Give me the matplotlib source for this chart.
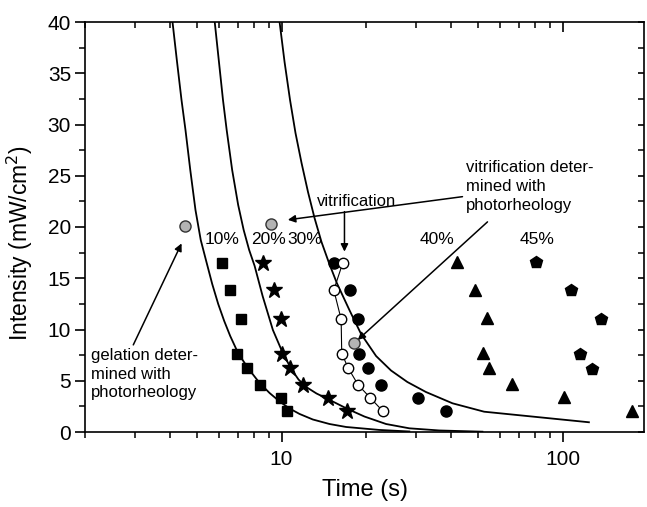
import matplotlib
matplotlib.use("Agg")
import matplotlib.pyplot as plt
from matplotlib.ticker import FixedLocator, NullFormatter, MultipleLocator, FixedFormatter

plt.rcParams['font.family'] = ['Liberation Sans', 'DejaVu Sans']

# ---------------- data ----------------
intensity = [16.5, 13.85, 11.0, 7.65, 6.2, 4.6, 3.35, 2.05]

t_10 = [6.16, 6.58, 7.15, 6.96, 7.56, 8.36, 9.98, 10.48]
t_20 = [8.59, 9.39, 9.98, 10.04, 10.72, 11.93, 14.6, 17.12]
t_30 = [15.34, 17.53, 18.66, 18.92, 20.25, 22.59, 30.63, 38.5]
t_vit = [16.51, 15.34, 16.29, 16.37, 17.29, 18.72, 20.65, 22.89]
t_40 = [41.9, 48.8, 54.0, 52.1, 54.7, 65.9, 101.0, 176.5]
I_40 = [16.6, 13.9, 11.1, 7.7, 6.2, 4.65, 3.45, 2.08]
t_45 = [80.6, 107.2, 136.7, 115.1, 126.7]
I_45 = [16.55, 13.85, 11.0, 7.6, 6.15]

# photorheology points (gray)
t_rheo = [4.55, 9.19, 18.05]
I_rheo = [20.1, 20.3, 8.65]

# model curves
curve1_t = [4.095, 4.242, 4.408, 4.554, 4.736, 4.942, 5.160, 5.406, 5.668, 5.953,
            6.253, 6.567, 6.925, 7.273, 7.638, 8.356, 9.07, 9.84, 10.68, 11.59,
            12.92, 14.81, 16.97, 22.28, 28.47]
curve1_I = [40.0, 36.29, 32.39, 29.46, 25.56, 21.66, 18.73, 16.59, 14.44, 12.49,
            10.83, 9.37, 8.0, 7.02, 6.15, 4.78, 3.80, 2.98, 2.29, 1.76,
            1.22, 0.78, 0.49, 0.2, 0.05]
curve2_t = [5.786, 6.191, 6.381, 6.674, 7.010, 7.333, 7.670, 8.022, 8.563, 9.316,
            10.11, 10.83, 11.49, 12.24, 13.31, 14.6, 17.2, 19.71, 23.53, 28.47,
            36.37, 51.8]
curve2_I = [40.0, 32.39, 29.46, 25.56, 22.15, 19.71, 17.76, 16.20, 13.27, 9.95,
            7.68, 6.15, 5.12, 4.39, 3.76, 3.22, 2.24, 1.51, 0.78, 0.36,
            0.15, 0.03]
curve3_t = [9.84, 10.25, 10.72, 11.21, 11.78, 12.42, 13.10, 13.87, 14.75, 15.72,
            17.43, 19.18, 21.69, 24.51, 28.01, 32.63, 40.55, 52.54, 123.9]
curve3_I = [40.0, 36.1, 32.39, 29.17, 26.24, 23.41, 20.88, 18.54, 16.49, 14.54,
            11.90, 9.56, 7.41, 6.0, 4.88, 3.90, 2.80, 1.98, 0.95]

x_major = [10, 100]
x_major_labels = ["10", "100"]
x_minor = [2, 3, 4, 5, 6, 7, 8, 9, 20, 30, 40, 50, 60, 70, 80, 90]

pct_labels = ["10%", "20%", "30%", "40%", "45%"]
pct_pos_t = [5.33, 7.81, 10.53, 31.07, 70.3]

# ---------------- figure ----------------
W, H = 647, 507
fig = plt.figure(figsize=(W / 100, H / 100), dpi=100)
rect = [85 / W, 1 - 432 / H, (644.3 - 85) / W, (432 - 22) / H]
ax = fig.add_axes(rect)
ax.set_xscale('log')
ax.set_xlim(2, 195)
ax.set_ylim(0, 40)

lc = 'black'
for ct, ci in [(curve1_t, curve1_I), (curve2_t, curve2_I), (curve3_t, curve3_I)]:
    ax.plot(ct, ci, color=lc, lw=1.3, zorder=2, solid_joinstyle='round')

ax.plot(t_10, intensity, ls='none', marker='s', ms=7.5, color='black', zorder=4)
ax.plot(t_20, intensity, ls='none', marker='*', ms=12, color='black', zorder=4)
ax.plot(t_30, intensity, ls='none', marker='o', ms=8, color='black', zorder=4)
ax.plot(t_vit, intensity, ls='-', lw=0.8, color='black', marker='o', ms=7.5,
        mfc='white', mec='black', mew=1.0, zorder=5)
ax.plot(t_40, I_40, ls='none', marker='^', ms=9, color='black', zorder=4)
ax.plot(t_45, I_45, ls='none', marker='p', ms=9, color='black', zorder=4)
ax.plot(t_rheo, I_rheo, ls='none', marker='o', ms=8, mfc='#b3b3b3', mec='#333333',
        mew=1.0, zorder=6)

# percentage labels
for lab, tx in zip(pct_labels, pct_pos_t):
    ax.text(tx, 18.75, lab, fontsize=12.5, ha='left', va='center', zorder=7)

# annotations
ap = dict(arrowstyle='-|>', color='black', lw=1.1, mutation_scale=11,
          shrinkA=0, shrinkB=0)
ax.text(2.096, 8.2, "gelation deter-\nmined with\nphotorheology", fontsize=12,
        ha='left', va='top', linespacing=1.3)
ax.annotate('', xy=(4.41, 18.4), xytext=(2.97, 8.5), arrowprops=ap)

ax.text(45.2, 26.5, "vitrification deter-\nmined with\nphotorheology", fontsize=12,
        ha='left', va='top', linespacing=1.3)
ax.annotate('', xy=(10.53, 20.7), xytext=(44.0, 22.96), arrowprops=ap)
ax.annotate('', xy=(18.66, 8.98), xytext=(54.0, 20.5), arrowprops=ap)

ax.text(13.35, 22.05, "vitrification", fontsize=12, ha='left', va='baseline')
ax.annotate('', xy=(16.74, 17.6), xytext=(16.74, 21.5), arrowprops=ap)

# axes styling
for s in ax.spines.values():
    s.set_linewidth(1.2)
ax.xaxis.set_major_locator(FixedLocator(x_major))
ax.xaxis.set_major_formatter(FixedFormatter(x_major_labels))
ax.xaxis.set_minor_locator(FixedLocator(x_minor))
ax.xaxis.set_minor_formatter(NullFormatter())
ax.yaxis.set_major_locator(MultipleLocator(5))
ax.yaxis.set_minor_locator(MultipleLocator(2.5))
ax.tick_params(which='major', direction='out', length=7, width=1.2, labelsize=15, pad=3)
ax.tick_params(which='minor', direction='out', length=4, width=1.1)
ax.tick_params(top=False, right=False, which='both')
ax.tick_params(axis='x', which='major', pad=6)

ax.set_xlabel("Time (s)", fontsize=17)
ax.set_ylabel("Intensity (mW/cm$^2$)", fontsize=16.5)
ax.xaxis.set_label_coords(0.5, -0.115)
ax.yaxis.set_label_coords(-0.09, 0.46)

# overlay axes for inward top/right ticks
ax2 = fig.add_axes(rect, sharex=ax, sharey=ax)
ax2.patch.set_visible(False)
for s in ax2.spines.values():
    s.set_visible(False)
ax2.tick_params(which='both', bottom=False, left=False, labelbottom=False, labelleft=False,
                top=True, right=True, labeltop=False, labelright=False, direction='in')
ax2.tick_params(which='major', length=7, width=1.2)
ax2.tick_params(which='minor', length=4, width=1.1)
ax2.tick_params(axis='y', which='major', length=4.5)

fig.savefig("out.png", dpi=100)
